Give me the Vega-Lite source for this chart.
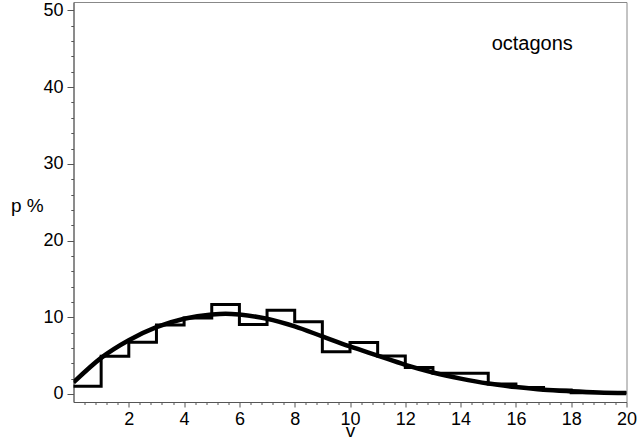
{
  "$schema": "https://vega.github.io/schema/vega-lite/v6.json",
  "width": 553,
  "height": 400,
  "autosize": {"type": "none"},
  "padding": {"left": 73.5, "top": 2, "right": 10.5, "bottom": 39},
  "background": "white",
  "config": {
    "view": {"stroke": "#888888", "strokeWidth": 1},
    "font": "Liberation Sans"
  },
  "datasets": {
    "hist": [
      {"v": 0, "p": 1.0}, {"v": 1, "p": 4.9}, {"v": 2, "p": 6.75}, {"v": 3, "p": 9.0},
      {"v": 4, "p": 9.9}, {"v": 5, "p": 11.65}, {"v": 6, "p": 9.05}, {"v": 7, "p": 10.9},
      {"v": 8, "p": 9.4}, {"v": 9, "p": 5.5}, {"v": 10, "p": 6.7}, {"v": 11, "p": 4.95},
      {"v": 12, "p": 3.45}, {"v": 13, "p": 2.7}, {"v": 14, "p": 2.7}, {"v": 15, "p": 1.3},
      {"v": 16, "p": 0.85}, {"v": 17, "p": 0.5}, {"v": 18, "p": 0.15}, {"v": 19, "p": 0.15},
      {"v": 20, "p": 0.15}
    ],
    "curve": [
      {"v": 0, "p": 1.5}, {"v": 1, "p": 4.7}, {"v": 2, "p": 7.0}, {"v": 3, "p": 8.7},
      {"v": 4, "p": 9.8}, {"v": 5, "p": 10.35}, {"v": 5.5, "p": 10.45}, {"v": 6, "p": 10.35},
      {"v": 7, "p": 9.8}, {"v": 8, "p": 8.8}, {"v": 9, "p": 7.5}, {"v": 10, "p": 6.2},
      {"v": 11, "p": 5.0}, {"v": 12, "p": 3.8}, {"v": 13, "p": 2.8}, {"v": 14, "p": 2.0},
      {"v": 15, "p": 1.35}, {"v": 16, "p": 0.9}, {"v": 17, "p": 0.55}, {"v": 18, "p": 0.35},
      {"v": 19, "p": 0.2}, {"v": 20, "p": 0.12}
    ],
    "label": [{"v": 16.59, "p": 44.9, "text": "octagons"}]
  },
  "layer": [
    {
      "data": {"name": "hist"},
      "mark": {"type": "line", "interpolate": "step-after", "color": "black", "strokeWidth": 3, "strokeJoin": "miter", "strokeCap": "square", "clip": true},
      "encoding": {
        "x": {
          "field": "v", "type": "quantitative",
          "scale": {"domain": [0, 20], "nice": false, "zero": false},
          "axis": {
            "values": [0.4,0.8,1.2,1.6,2,2.4,2.8,3.2,3.6,4,4.4,4.8,5.2,5.6,6,6.4,6.8,7.2,7.6,8,8.4,8.8,9.2,9.6,10,10.4,10.8,11.2,11.6,12,12.4,12.8,13.2,13.6,14,14.4,14.8,15.2,15.6,16,16.4,16.8,17.2,17.6,18,18.4,18.8,19.2,19.6,20],
            "tickCount": 500,
            "labelExpr": "datum.value % 2 === 0 ? '' + datum.value : ''",
            "labelOverlap": false,
            "labelFlush": false,
            "grid": false,
            "tickSize": {"condition": {"test": "datum.value % 2 === 0", "value": 5}, "value": 2.5},
            "tickColor": "#555555",
            "domainColor": "#555555",
            "labelFontSize": 18,
            "labelColor": "black",
            "labelPadding": 3,
            "title": "v",
            "titleFontSize": 19,
            "titleFontWeight": "normal",
            "titleColor": "black",
            "titleBaseline": "alphabetic",
            "titleY": 34.7
          }
        },
        "y": {
          "field": "p", "type": "quantitative",
          "scale": {"domain": [-1.05, 51.1], "nice": false, "zero": false},
          "axis": {
            "values": [0,2,4,6,8,10,12,14,16,18,20,22,24,26,28,30,32,34,36,38,40,42,44,46,48,50],
            "tickCount": 500,
            "labelExpr": "datum.value % 10 === 0 ? '' + datum.value : ''",
            "labelOverlap": false,
            "labelFlush": false,
            "grid": false,
            "tickSize": {"condition": {"test": "datum.value % 10 === 0", "value": 6.5}, "value": 2.7},
            "tickColor": "#555555",
            "domainColor": "#555555",
            "labelFontSize": 18,
            "labelColor": "black",
            "labelPadding": 4,
            "title": "p %",
            "titleFontSize": 19,
            "titleFontWeight": "normal",
            "titleColor": "black",
            "titleAngle": 0,
            "titleAlign": "left",
            "titleBaseline": "middle",
            "titleX": -63,
            "titleY": 203
          }
        }
      }
    },
    {
      "data": {"name": "curve"},
      "mark": {"type": "line", "interpolate": "monotone", "color": "black", "strokeWidth": 4.5, "clip": true},
      "encoding": {
        "x": {"field": "v", "type": "quantitative"},
        "y": {"field": "p", "type": "quantitative"}
      }
    },
    {
      "data": {"name": "label"},
      "mark": {"type": "text", "align": "center", "baseline": "alphabetic", "fontSize": 20, "color": "black", "font": "Liberation Sans"},
      "encoding": {
        "x": {"field": "v", "type": "quantitative"},
        "y": {"field": "p", "type": "quantitative"},
        "text": {"field": "text"}
      }
    }
  ]
}
